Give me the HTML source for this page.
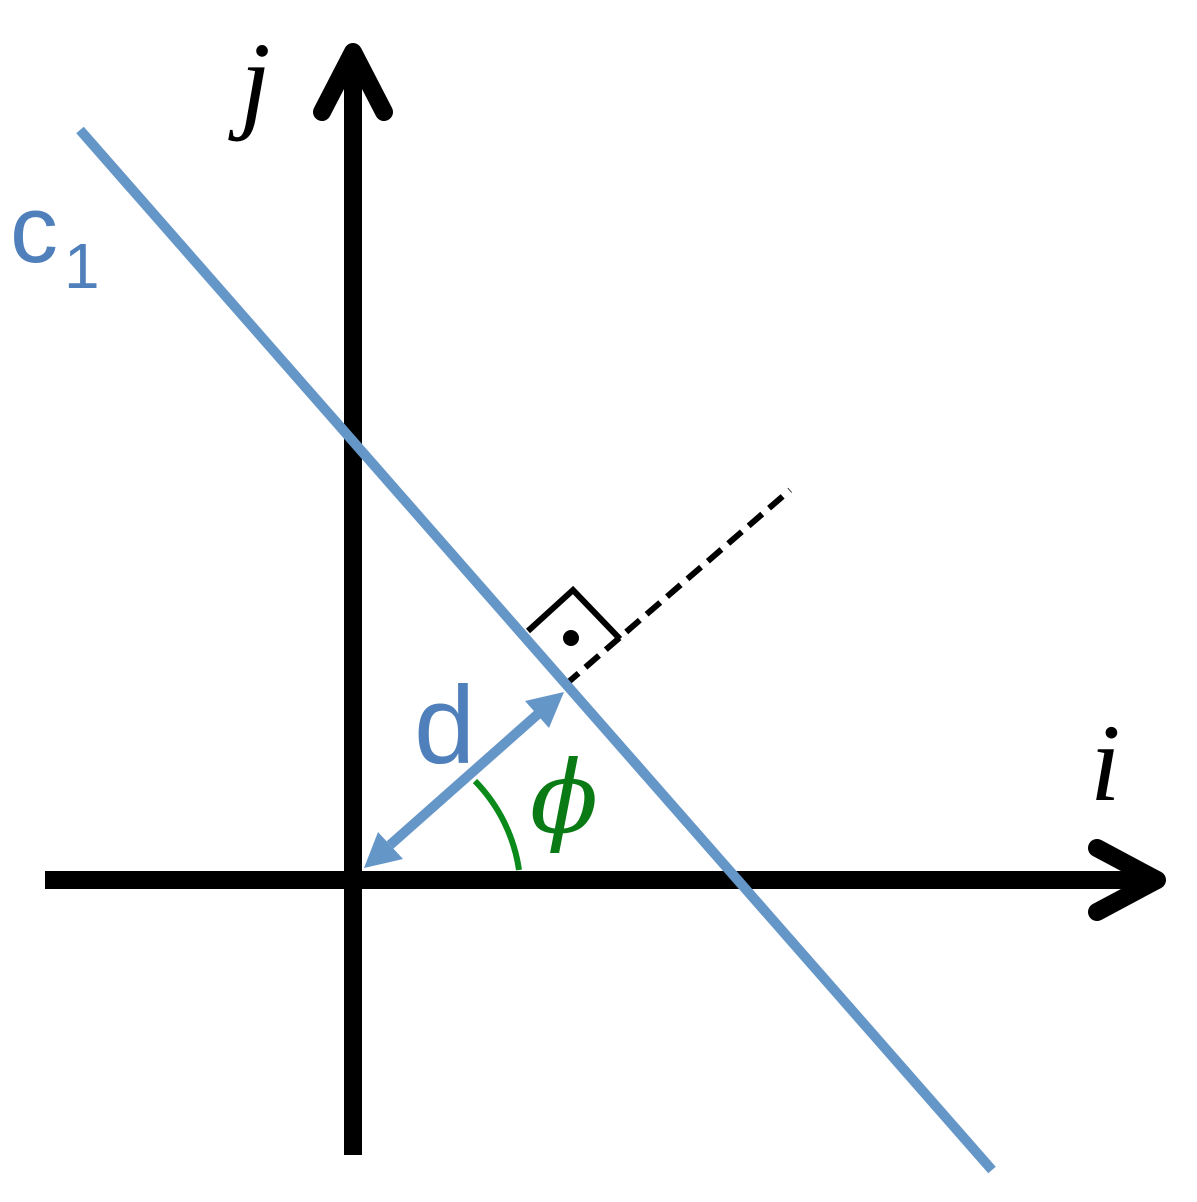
<!DOCTYPE html>
<html><head><style>html,body{margin:0;padding:0;background:#fff}</style></head>
<body>
<svg width="1197" height="1197" viewBox="0 0 1197 1197" xmlns="http://www.w3.org/2000/svg">
<line x1="353" y1="50" x2="353" y2="1155" stroke="#000" stroke-width="18"/>
<polyline points="322,112 353,52 384,112" fill="none" stroke="#000" stroke-width="18" stroke-linecap="round" stroke-linejoin="round"/>
<line x1="45" y1="880" x2="1155" y2="880" stroke="#000" stroke-width="18"/>
<polyline points="1097,848 1157,880 1097,912" fill="none" stroke="#000" stroke-width="18" stroke-linecap="round" stroke-linejoin="round"/>
<line x1="565" y1="685" x2="790" y2="490" stroke="#000" stroke-width="6" stroke-dasharray="18,9"/>
<polyline points="528,631 573,590 620,639" fill="none" stroke="#000" stroke-width="6"/>
<circle cx="571" cy="638" r="8" fill="#000"/>
<line x1="80" y1="130" x2="992" y2="1170" stroke="#6596c8" stroke-width="10"/>
<path d="M475,781 A160,160 0 0 1 519,870" fill="none" stroke="#0a8a1a" stroke-width="6"/>
<line x1="390" y1="845" x2="538" y2="714" stroke="#6596c8" stroke-width="10"/>
<polygon points="564,692 549,728 525,701" fill="#6596c8"/>
<polygon points="364,868 403,859 378,832" fill="#6596c8"/>
<text x="240" y="118" font-family="Liberation Serif, serif" font-style="italic" font-size="110">j</text>
<text x="1090" y="800" font-family="Liberation Serif, serif" font-style="italic" font-size="110">i</text>
<text x="10" y="262" font-family="Liberation Sans, sans-serif" font-size="96" fill="#5080bb">c</text>
<text x="64" y="288" font-family="Liberation Sans, sans-serif" font-size="64" fill="#5080bb">1</text>
<text x="414" y="763" font-family="Liberation Sans, sans-serif" font-size="110" fill="#5080bb">d</text>
<text x="530" y="832" font-family="DejaVu Serif, serif" font-style="italic" font-size="100" fill="#0a7a14">ϕ</text>
</svg>
</body></html>
